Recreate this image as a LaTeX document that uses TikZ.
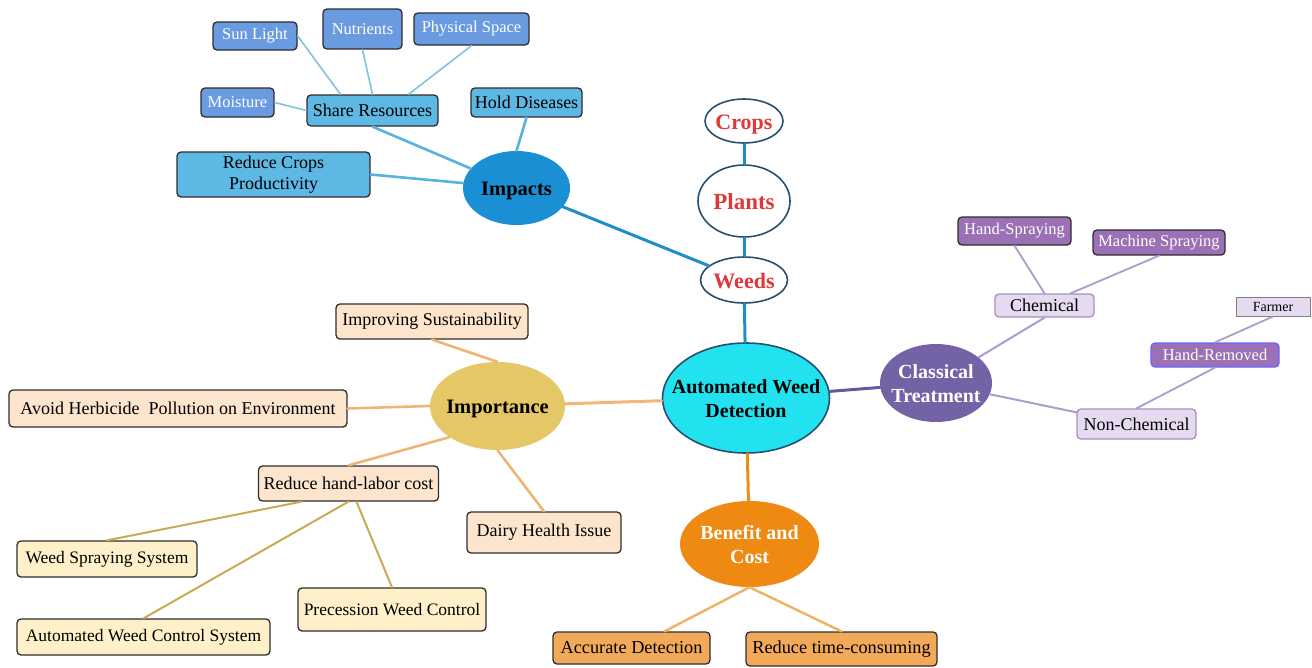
\documentclass[tikz,border=0pt]{standalone}
\usepackage{fontspec}
\setmainfont{Liberation Serif}
\usetikzlibrary{shapes.geometric}

% Colours
\definecolor{bluedark}{HTML}{6A9AE0}
\definecolor{bluelight}{HTML}{5DB8E4}
\definecolor{impactsfill}{HTML}{1A8FD3}
\definecolor{awdfill}{HTML}{22E2EF}
\definecolor{ovalline}{HTML}{28506E}
\definecolor{ovalred}{HTML}{E0383A}
\definecolor{classicfill}{HTML}{7462A6}
\definecolor{purplefill}{HTML}{9B70B5}
\definecolor{lavfill}{HTML}{E5DAEF}
\definecolor{lavline}{HTML}{A58FC0}
\definecolor{importfill}{HTML}{E6C767}
\definecolor{peachfill}{HTML}{FDE5CD}
\definecolor{yellowfill}{HTML}{FEF0C9}
\definecolor{benefitfill}{HTML}{EE8912}
\definecolor{orangefill}{HTML}{F2AA5A}
\definecolor{boxline}{HTML}{2E2E2E}

\newcommand{\fsz}[2][1.2]{\fontsize{#2}{#1\dimexpr #2pt\relax}\selectfont}
% text that does not widen an oval
\newcommand{\ovaltext}[1]{\raisebox{-3pt}[\height][\depth]{\makebox[0pt]{\begin{tabular}{@{}c@{}}#1\end{tabular}}}}

\tikzset{
    box/.style={draw=boxline, line width=1.3pt, rounded corners=4pt, inner sep=0pt, align=center},
    oval/.style={ellipse, inner sep=0pt, font=\fsz{20}\bfseries},
    blueleaf/.style={box, fill=bluedark, text=white, font=\fsz{16.5}},
    bluebox/.style={box, fill=bluelight, font=\fsz{18}},
    purpleleaf/.style={box, fill=purplefill, text=white, font=\fsz{16.5}},
    lavbox/.style={box, draw=lavline, fill=lavfill, font=\fsz{18}},
    peachbox/.style={box, fill=peachfill, font=\fsz{18}},
    yellowbox/.style={box, fill=yellowfill, font=\fsz{17.5}},
    orangebox/.style={box, fill=orangefill, font=\fsz{18.3}},
    redoval/.style={oval, draw=ovalline, line width=1.6pt, fill=white, text=ovalred, font=\fsz{22}\bfseries},
    link/.style={line width=#1, line cap=round},
    link/.default=2pt
}

\begin{document}
\begin{tikzpicture}[x=1pt, y=-1pt]
        \useasboundingbox (0,0) rectangle (1312,667);

        % Centre and chain
        \node[oval, draw=ovalline, line width=1.6pt, fill=awdfill, minimum width=167, minimum height=110] (awd) at (746,398) {\ovaltext{Automated Weed\\Detection}};
        \node[redoval, minimum width=78, minimum height=44] (crops) at (744,121) {\ovaltext{Crops}};
        \node[redoval, minimum width=92, minimum height=72, font=\fsz{23}\bfseries] (plants) at (744,201) {\ovaltext{Plants}};
        \node[redoval, minimum width=87, minimum height=46] (weeds) at (744,280) {\ovaltext{Weeds}};

        % Impacts branch
        \node[oval, fill=impactsfill, font=\fsz{20.5}\bfseries, minimum width=107, minimum height=74] (impacts) at (516.5,188) {\ovaltext{Impacts}};
        \node[bluebox, minimum width=131, minimum height=31] (share) at (372.5,110.5) {Share Resources};
        \node[bluebox, minimum width=111, minimum height=29] (hold) at (526.5,102.5) {Hold Diseases};
        \node[bluebox, minimum width=193, minimum height=45] (rcp) at (273.5,174.5) {Reduce Crops\\Productivity};
        \node[blueleaf, minimum width=84, minimum height=28] (sun) at (255,36) {Sun Light};
        \node[blueleaf, minimum width=79, minimum height=40] (nutr) at (362.5,29) {Nutrients};
        \node[blueleaf, minimum width=115, minimum height=32] (phys) at (471.5,29) {Physical Space};
        \node[blueleaf, minimum width=73, minimum height=29] (moist) at (237.5,102.5) {Moisture};

        % Classical treatment branch
        \node[oval, fill=classicfill, text=white, minimum width=112, minimum height=78] (classical) at (936,383) {\ovaltext{Classical\\Treatment}};
        \node[lavbox, minimum width=99, minimum height=23] (chem) at (1044.5,305.5) {Chemical};
        \node[lavbox, minimum width=119, minimum height=30] (nonchem) at (1136.5,424) {Non-Chemical};
        \node[purpleleaf, minimum width=113, minimum height=28] (hs) at (1014.5,231) {Hand-Spraying};
        \node[purpleleaf, minimum width=132, minimum height=25] (ms) at (1159,242.5) {Machine Spraying};
        \node[purpleleaf, draw=blue!60!white, minimum width=128, minimum height=24] (hr) at (1215,355) {Hand-Removed};
        \node[box, draw=gray, line width=1pt, rounded corners=0pt, fill=lavfill, font=\fsz{14}, minimum width=74, minimum height=19] (farmer) at (1273,306.5) {Farmer};

        % Importance branch
        \node[oval, fill=importfill, font=\fsz{20.5}\bfseries, minimum width=135, minimum height=88] (importance) at (497.5,406) {\ovaltext{Importance}};
        \node[peachbox, minimum width=192, minimum height=35] (improv) at (432,321.5) {Improving Sustainability};
        \node[peachbox, minimum width=338, minimum height=37] (avoid) at (178,408.5) {Avoid Herbicide\ \ Pollution on Environment};
        \node[peachbox, minimum width=180, minimum height=35] (rhl) at (348.5,483.5) {Reduce hand-labor cost};
        \node[peachbox, minimum width=154, minimum height=41] (dairy) at (544,532.5) {Dairy Health Issue};
        \node[yellowbox, minimum width=180, minimum height=36] (wss) at (107,559) {Weed Spraying System};
        \node[yellowbox, minimum width=253, minimum height=36] (awcs) at (143.5,637) {Automated Weed Control System};
        \node[yellowbox, minimum width=188, minimum height=43] (prec) at (392,609.5) {Precession Weed Control};

        % Benefit branch
        \node[oval, fill=benefitfill, text=white, minimum width=139, minimum height=86] (benefit) at (749.5,544) {\ovaltext{Benefit and\\Cost}};
        \node[orangebox, minimum width=157, minimum height=32] (acc) at (631.5,648) {Accurate Detection};
        \node[orangebox, minimum width=191, minimum height=34] (rtc) at (841.5,649) {Reduce time-consuming};

        % Connectors, blue
        \draw[link=3pt, color={rgb,255:red,30;green,143;blue,198}] (crops) -- (plants);
        \draw[link=3pt, color={rgb,255:red,30;green,143;blue,198}] (plants) -- (weeds);
        \draw[link=3pt, color={rgb,255:red,30;green,143;blue,198}] (weeds) -- (awd);
        \draw[link=3pt, color={rgb,255:red,30;green,143;blue,198}] (impacts) -- (weeds);
        \draw[link=2.6pt, color={rgb,255:red,88;green,179;blue,219}] (share.south) -- (impacts);
        \draw[link=2.6pt, color={rgb,255:red,88;green,179;blue,219}] (hold.south) -- (impacts.north);
        \draw[link=2.6pt, color={rgb,255:red,88;green,179;blue,219}] (rcp.east) -- (impacts);
        \draw[link=1.6pt, color={rgb,255:red,127;green,195;blue,221}] (sun.east) -- ([xshift=-32pt]share.north);
        \draw[link=1.6pt, color={rgb,255:red,127;green,195;blue,221}] (nutr.south) -- (share.north);
        \draw[link=1.6pt, color={rgb,255:red,127;green,195;blue,221}] (phys.south) -- ([xshift=36pt]share.north);
        \draw[link=1.6pt, color={rgb,255:red,127;green,195;blue,221}] (moist.east) -- (share.west);

        % Connectors, purple
        \draw[link=3pt, color={rgb,255:red,103;green,87;blue,160}] (awd) -- (classical);
        \draw[link=2pt, color={rgb,255:red,169;green,157;blue,203}] (chem.south) -- (classical);
        \draw[link=2pt, color={rgb,255:red,169;green,157;blue,203}] (nonchem.169) -- (classical);
        \draw[link=1.8pt, color={rgb,255:red,169;green,157;blue,203}] (hs.south) -- (chem.north);
        \draw[link=1.8pt, color={rgb,255:red,169;green,157;blue,203}] (ms.south) -- (chem.25);
        \draw[link=1.8pt, color={rgb,255:red,169;green,157;blue,203}] (hr.south) -- (nonchem.north);
        \draw[link=1.8pt, color={rgb,255:red,169;green,157;blue,203}] (farmer.south) -- (hr.north);

        % Connectors, orange and gold
        \draw[link=3pt, color={rgb,255:red,245;green,180;blue,122}] (awd) -- (importance);
        \draw[link=2.6pt, color={rgb,255:red,240;green,181;blue,116}] (improv.south) -- (importance.north);
        \draw[link=2.6pt, color={rgb,255:red,240;green,181;blue,116}] (avoid.east) -- (importance.west);
        \draw[link=2.6pt, color={rgb,255:red,240;green,181;blue,116}] (rhl.north) -- (importance.213);
        \draw[link=2.6pt, color={rgb,255:red,240;green,181;blue,116}] (importance.south) -- (dairy.north);
        \draw[link=2pt, color={rgb,255:red,201;green,171;blue,85}] ([xshift=-47pt]rhl.south) -- (wss.north);
        \draw[link=2pt, color={rgb,255:red,201;green,171;blue,85}] (rhl.south) -- (awcs.north);
        \draw[link=2pt, color={rgb,255:red,201;green,171;blue,85}] ([xshift=8pt]rhl.south) -- (prec.north);
        \draw[link=3pt, color={rgb,255:red,233;green,143;blue,28}] (awd) -- (benefit);
        \draw[link=2.4pt, color={rgb,255:red,241;green,176;blue,99}] (benefit.south) -- ([xshift=33pt]acc.north);
        \draw[link=2.4pt, color={rgb,255:red,241;green,176;blue,99}] (benefit.south) -- (rtc.north);
    \end{tikzpicture}
\end{document}
